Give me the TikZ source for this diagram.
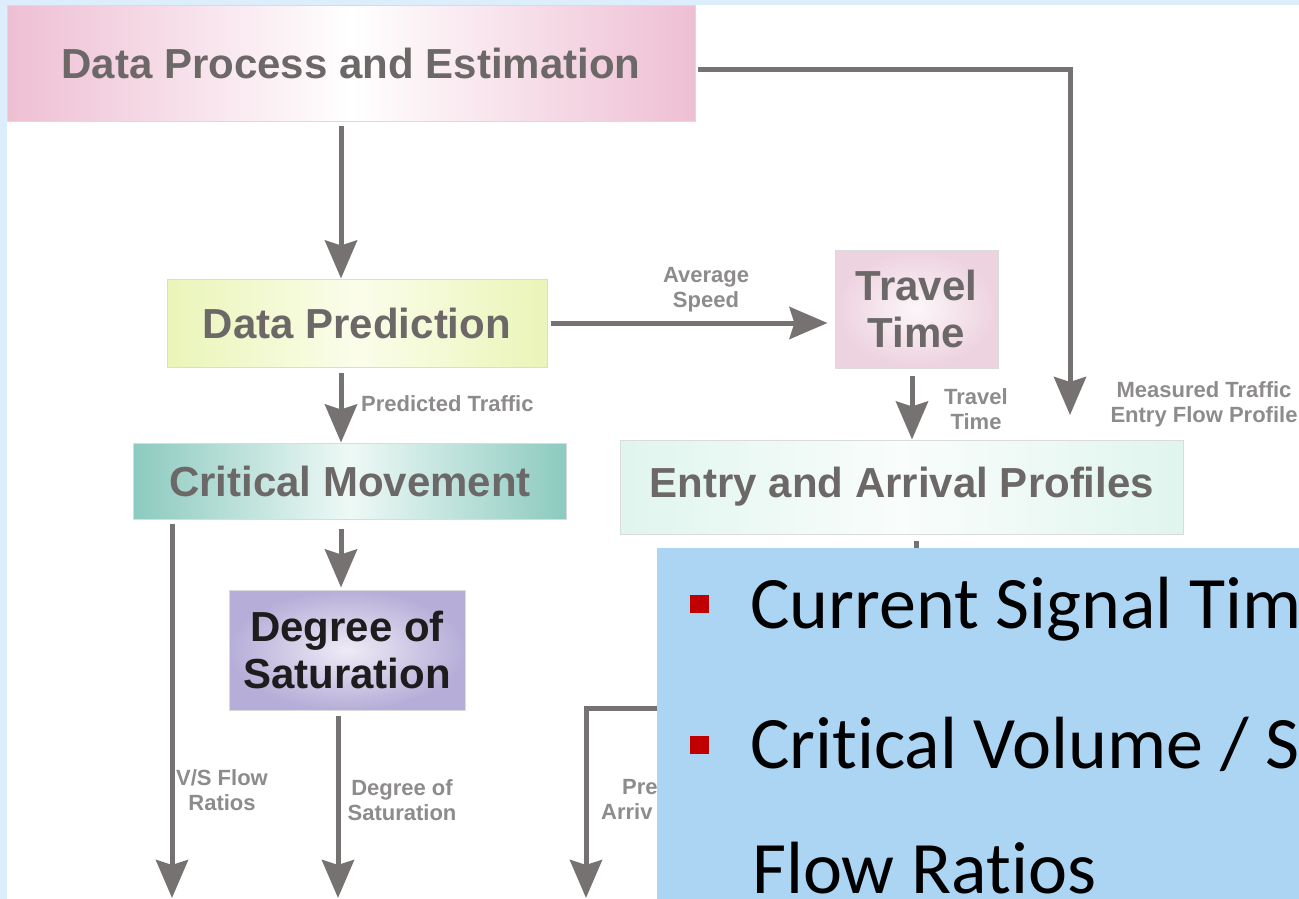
\documentclass[tikz,border=0pt]{standalone}
\usepackage{fontspec}
\setmainfont{Liberation Sans}
\newfontfamily\carlito[RawFeature={-liga;-clig;-dlig;-calt}]{Carlito}
\usetikzlibrary{arrows.meta}
\definecolor{arrgray}{HTML}{767271}
\definecolor{boxtext}{HTML}{6C6868}
\definecolor{lbltext}{HTML}{8E8B8B}
\definecolor{bgblue}{HTML}{DCEEFB}
\definecolor{slideblue}{HTML}{ACD5F4}
\definecolor{bulletred}{HTML}{C00000}
\definecolor{pinkA}{HTML}{EEBFD3}
\definecolor{greenA}{HTML}{EAF5B8}
\definecolor{greenB}{HTML}{FBFDEA}
\definecolor{tealA}{HTML}{8CCABF}
\definecolor{tealB}{HTML}{EEF9F6}
\definecolor{ttA}{HTML}{EDD2DF}
\definecolor{ttB}{HTML}{FCF6F9}
\definecolor{mintA}{HTML}{E0F5EE}
\definecolor{mintB}{HTML}{F9FDFC}
\definecolor{lavA}{HTML}{B6AED8}
\definecolor{lavB}{HTML}{EEEBF6}
\definecolor{dostext}{HTML}{1E1C1C}
\begin{document}
\begin{tikzpicture}[x=1pt,y=-1pt,
  box/.style={draw=black!14, line width=1pt, inner sep=0pt, align=center,
    text=boxtext, font=\bfseries\fontsize{42}{47}\selectfont},
  arr/.style={draw=arrgray, line width=5pt, -{Stealth[length=38pt,width=32pt,inset=5pt]}},
  ln/.style={draw=arrgray, line width=5pt},
  lbl/.style={text=lbltext, inner sep=0pt, align=center,
    font=\bfseries\fontsize{22}{25}\selectfont},
  slidetext/.style={inner sep=0pt, text=black, font=\carlito\fontsize{74}{80}\selectfont},
  bullet/.style={fill=bulletred, draw=none}
]
\clip (0,0) rectangle (1299,899);
\fill[bgblue] (0,0) rectangle (1299,899);
\fill[white] (7,5) rectangle (1299,899);

% boxes
\node[box, minimum width=688pt, minimum height=115pt,
  left color=pinkA, right color=pinkA, middle color=white] (dpe) at (351,63.5)
  {Data Process and Estimation};
\node[box, minimum width=380pt, minimum height=88pt,
  left color=greenA, right color=greenA, middle color=greenB] (dp) at (357,323)
  {Data Prediction};
\node[box, minimum width=433pt, minimum height=76pt,
  left color=tealA, right color=tealA, middle color=tealB] (cm) at (350,481)
  {Critical Movement};
\node[box, minimum width=163pt, minimum height=118pt,
  inner color=ttB, outer color=ttA] (tt) at (916.5,309)
  {Travel\\Time};
\node[box, minimum width=563pt, minimum height=94pt,
  left color=mintA, right color=mintA, middle color=mintB] (eap) at (902,487)
  {Entry and Arrival Profiles};
\node[box, minimum width=236pt, minimum height=120pt, text=dostext,
  inner color=lavB, outer color=lavA] (dos) at (347,650)
  {Degree of\\Saturation};

% helper coordinates
\coordinate (c341) at (341,0);
\coordinate (c912) at (912,0);
\coordinate (c916) at (916,0);
\coordinate (m0) at (0,70);
\coordinate (m1) at (1070,415);
\coordinate (b1) at (172,898);
\coordinate (b2) at (338,898);
\coordinate (p3) at (665,708);
\coordinate (b3) at (586,898);

% connectors
\draw[arr, shorten <=4pt] (dpe.south -| c341) -- (dp.north -| c341);
\draw[arr, shorten <=2pt] (dpe.east |- m0) -| (m1);
\draw[arr, shorten <=3pt, shorten >=7pt] (dp.east) -- (tt.west |- dp.east);
\draw[arr, shorten <=5pt] (dp.south -| c341) -- (cm.north -| c341);
\draw[arr, shorten <=7pt] (tt.south -| c912) -- (eap.north -| c912);
\draw[arr, shorten <=9pt, shorten >=2pt] (cm.south -| c341) -- (dos.north -| c341);
\draw[arr, shorten <=4pt] (cm.south -| b1) -- (b1);
\draw[arr, shorten <=5pt] (dos.south -| b2) -- (b2);
\draw[arr] (p3) -| (b3);
\draw[ln, shorten <=6pt] (eap.south -| c916) -- ++(0,20);

% labels
\node[lbl, anchor=north] (lavg) at (706,267) {Average\\Speed};
\node[lbl, anchor=west] (lpt) at (361,404) {Predicted Traffic};
\node[lbl, anchor=north] (ltt) at (976,388) {Travel\\Time};
\node[lbl, anchor=north] (lmt) at (1204,381) {Measured Traffic\\Entry Flow Profile};
\node[lbl, anchor=north] (lvs) at (222,769) {V/S Flow\\Ratios};
\node[lbl, anchor=north] (lds) at (402,779) {Degree of\\Saturation};
\node[lbl, anchor=north west] (lpre) at (622,779) {Pre};
\node[lbl, anchor=north west] (larr) at (601,803) {Arriv};

% slide overlay
\node[fill=slideblue, draw=none, inner sep=0pt, anchor=north west,
  minimum width=642pt, minimum height=351pt] (blue) at (657,548) {};
\fill[bullet] (690,595) rectangle (709,613);
\fill[bullet] (690,736) rectangle (709,754);
\node[slidetext, anchor=base west] (t1) at (750,628) {Current Signal Tim};
\node[slidetext, anchor=base west] (t2) at (750,768) {Crit\kern0pt ical Volume / S};
\node[slidetext, anchor=base west] (t3) at (752,893) {Flow Ratios};
\end{tikzpicture}
\end{document}
